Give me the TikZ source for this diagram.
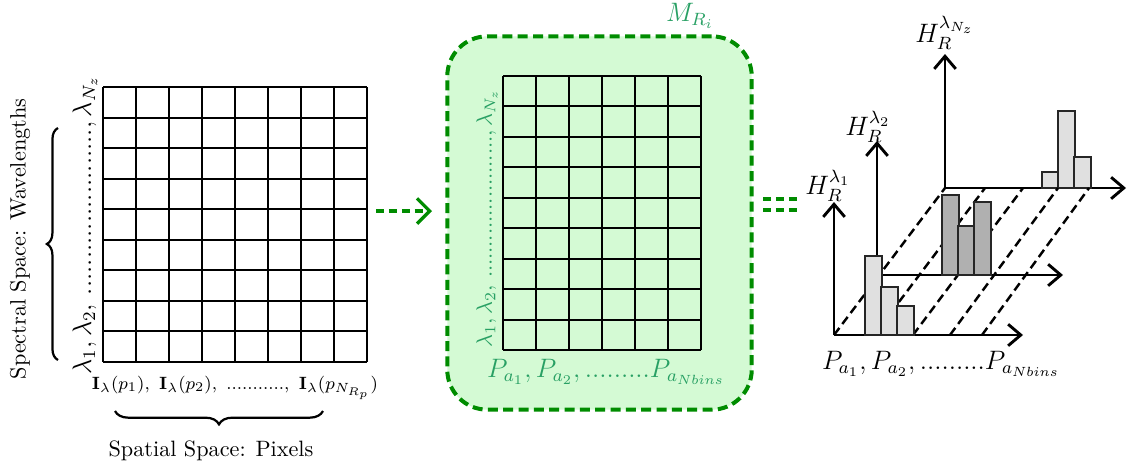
\documentclass[tikz,border=0pt]{standalone}
\usepackage{amsmath}
\usetikzlibrary{arrows.meta, calc, decorations.pathreplacing}

\definecolor{boxgreen}{RGB}{212,250,212}
\definecolor{edgegreen}{RGB}{0,140,0}
\definecolor{labgreen}{RGB}{40,160,100}
\definecolor{barlight}{RGB}{224,224,224}
\definecolor{bardark}{RGB}{176,176,176}

\tikzset{
  cell/.style={line width=0.9pt},
  axis/.style={line width=1.3pt, -{Straight Barb[length=2mm, width=3.4mm, line width=1.3pt]}},
  guide/.style={line width=1.1pt, dash pattern=on 4pt off 2.2pt},
  bar/.style={line width=0.9pt, draw=black!85},
  brace/.style={decorate, decoration={brace, amplitude=#1}, line width=1pt},
  greendash/.style={edgegreen, line width=1.5pt, dash pattern=on 3.8pt off 2pt},
}

\begin{document}
\begin{tikzpicture}[x=0.45pt, y=-0.45pt]
  \useasboundingbox (0,0) rectangle (1128,471);

  % cube seen flat: pixels x wavelengths
  \foreach \i in {0,...,8} \draw[cell] (103+33*\i,87) -- (103+33*\i,361.5);
  \foreach \j in {0,...,9} \draw[cell] (103,87+30.5*\j) -- (367,87+30.5*\j);
  \node[rotate=90] (lamL) at (85,225)
    {\large $\lambda_1,\lambda_2,\,.......................,\lambda_{N_z}$};
  \draw[brace=5pt] (58,360) -- (58,128);
  \node[rotate=90] (spec) at (20,239) {Spectral Space: Wavelengths};
  \node (pixL) at (235,388)
    {\footnotesize $\mathbf{I}_\lambda(p_1),\ \mathbf{I}_\lambda(p_2),\ ...........,\ \mathbf{I}_\lambda(p_{N_{R_p}})$};
  \draw[brace=6pt] (323,411) -- (115,411);
  \node (spat) at (211,451) {Spatial Space: Pixels};

  % arrow to the region matrix
  \coordinate (arrS) at (376,211);
  \coordinate (arrE) at (432,211);
  \draw[greendash, -{Straight Barb[length=2mm, width=4mm, line width=1.5pt]}] (arrS) -- (arrE);

  % region matrix M_Ri
  \node[draw=edgegreen, fill=boxgreen, line width=1.8pt, dash pattern=on 4.5pt off 2.4pt,
        rounded corners=18pt, minimum width=137pt, minimum height=168pt, inner sep=0pt]
        (mbox) at (599.5,223) {};
  \node[text=labgreen, inner sep=1pt] (mlab) at (690,16) {\large $M_{R_i}$};
  \foreach \i in {0,...,6} \draw[cell] (503+33*\i,76) -- (503+33*\i,350);
  \foreach \j in {0,...,9} \draw[cell] (503,76+30.44*\j) -- (701,76+30.44*\j);
  \node[rotate=90, text=labgreen] (lamM) at (487,218)
    {$\lambda_1,\lambda_2,\,.......................,\lambda_{N_z}$};
  \node[text=labgreen] (binM) at (606,372) {\large $P_{a_1},P_{a_2},.........P_{a_{Nbins}}$};

  % equals sign
  \coordinate (eqA) at (763,199);
  \coordinate (eqB) at (797,199);
  \draw[greendash] (eqA) -- (eqB);
  \draw[greendash] ($(eqA)+(0,11)$) -- ($(eqB)+(0,11)$);

  % histograms, one per wavelength
  \coordinate (O1) at (834,335);
  \coordinate (O2) at (877,275);
  \coordinate (O3) at (945,188);
  \draw[axis] (O3) -- ++(0,-134);
  \draw[axis] (O3) -- ++(181,0);
  \foreach \x/\h in {1042/172, 1058/111, 1074/157}
    \draw[bar, fill=barlight] (\x,188) rectangle (\x+16.5,\h);
  \foreach \a/\b in {834/945, 874/985, 913/1023, 950/1058, 982/1089}
    \draw[guide] (\a,335) -- (\b,188);
  \draw[axis] (O2) -- ++(0,-134);
  \draw[axis] (O2) -- ++(186,0);
  \foreach \x/\h in {942/195, 958/226, 974/202}
    \draw[bar, fill=bardark] (\x,275) rectangle (\x+16.5,\h);
  \draw[axis] (O1) -- ++(0,-133);
  \draw[axis] (O1) -- ++(189,0);
  \foreach \x/\h in {865/256, 881/287, 897/306}
    \draw[bar, fill=barlight] (\x,335) rectangle (\x+16.5,\h);

  \node (hl1) at (828,186) {\large $H_R^{\lambda_1}$};
  \node (hl2) at (868,127) {\large $H_R^{\lambda_2}$};
  \node (hl3) at (945,33) {\large $H_R^{\lambda_{N_z}}$};
  \node (binR) at (941,364) {\large $P_{a_1},P_{a_2},.........P_{a_{Nbins}}$};
\end{tikzpicture}
\end{document}
